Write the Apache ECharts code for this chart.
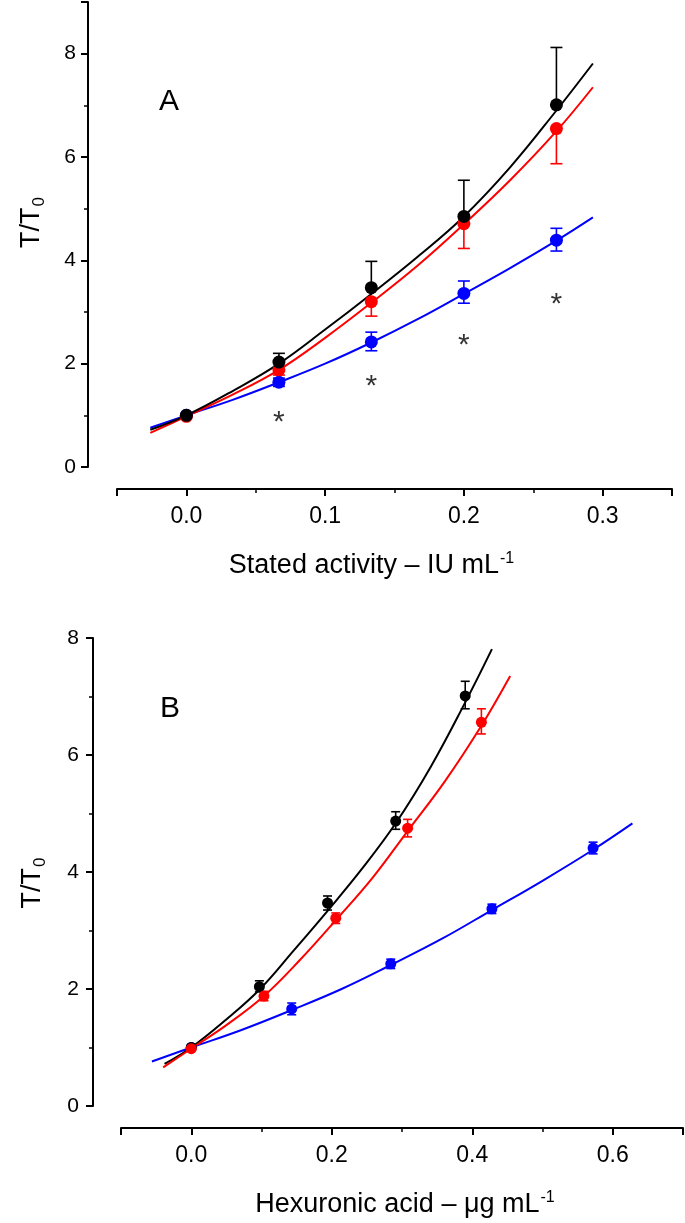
<!DOCTYPE html>
<html>
<head>
<meta charset="utf-8">
<script src="https://cdn.jsdelivr.net/npm/echarts@6/dist/echarts.min.js"></script>
<style>
html,body{margin:0;padding:0;background:#fff;}
#chart{width:685px;height:1223px;}
</style>
</head>
<body>
<div id="chart"></div>
<script>
// ---------- Panel A: stated activity (IU mL-1) ----------
const xA = [0, 0.0667, 0.1333, 0.2, 0.2667];
const blackA = [1.0, 2.03, 3.47, 4.85, 7.01];
const blackA_lo = [1.0, 2.03, 3.47, 4.85, 7.01];
const blackA_hi = [1.0, 2.2, 3.98, 5.55, 8.12];
const redA = [0.98, 1.88, 3.2, 4.71, 6.55];
const redA_lo = [0.98, 1.78, 2.92, 4.23, 5.87];
const redA_hi = [0.98, 1.88, 3.2, 4.71, 6.55];
const blueA = [1.0, 1.64, 2.42, 3.36, 4.39];
const blueA_lo = [1.0, 1.56, 2.25, 3.17, 4.18];
const blueA_hi = [1.0, 1.72, 2.61, 3.6, 4.62];
const starX_A = [0.0667, 0.1333, 0.2, 0.2667];
const starY_A = [1.02, 1.7, 2.51, 3.29];

const fitX_A = [-0.026, 0, 0.0333, 0.0667, 0.1, 0.1333, 0.1667, 0.2, 0.2333, 0.2667, 0.293];
const fitBlack = [0.72, 1.0, 1.47, 2.0, 2.66, 3.35, 4.07, 4.85, 5.8, 6.9, 7.81];
const fitRed = [0.66, 0.98, 1.40, 1.88, 2.5, 3.18, 3.9, 4.7, 5.55, 6.5, 7.35];
const fitBlue = [0.76, 1.0, 1.3, 1.64, 2.0, 2.41, 2.86, 3.35, 3.85, 4.38, 4.83];

// ---------- Panel B: hexuronic acid (ug mL-1) ----------
const xB_black = [0, 0.097, 0.194, 0.291, 0.39];
const blackB = [1.0, 2.04, 3.47, 4.87, 7.01];
const blackB_lo = [1.0, 1.95, 3.35, 4.73, 6.79];
const blackB_hi = [1.0, 2.14, 3.59, 5.03, 7.26];
const xB_red = [0, 0.1035, 0.2057, 0.308, 0.413];
const redB = [0.98, 1.88, 3.21, 4.75, 6.56];
const redB_lo = [0.98, 1.8, 3.12, 4.6, 6.36];
const redB_hi = [0.98, 1.96, 3.3, 4.9, 6.79];
const xB_blue = [0, 0.143, 0.284, 0.428, 0.572];
const blueB = [1.0, 1.66, 2.43, 3.37, 4.41];
const blueB_lo = [1.0, 1.56, 2.35, 3.29, 4.31];
const blueB_hi = [1.0, 1.76, 2.51, 3.45, 4.51];

const fitX_B_black = [-0.038, 0, 0.049, 0.098, 0.146, 0.195, 0.244, 0.292, 0.341, 0.39, 0.428];
const fitX_B_red = [-0.04, 0, 0.052, 0.1035, 0.155, 0.206, 0.258, 0.308, 0.361, 0.413, 0.454];
const fitX_B_blue = [-0.056, 0, 0.0715, 0.143, 0.214, 0.284, 0.357, 0.428, 0.5, 0.572, 0.628];

// ---------- helpers ----------
const FONT = "'Liberation Sans', Arial, sans-serif";
const BLACK = '#000000', RED = '#ff0000', BLUE = '#0000ff';

function zip(xs, ys) { return xs.map((x, i) => [x, ys[i]]); }
function zipErr(xs, ys, lo, hi) { return xs.map((x, i) => [x, ys[i], lo[i], hi[i]]); }

function curve(xs, ys, color, gi) {
  return { type: 'line', xAxisIndex: gi, yAxisIndex: gi, data: zip(xs, ys), smooth: 0.4,
    showSymbol: false, silent: true, z: 2,
    lineStyle: { color: color, width: 2 } };
}
function points(xs, ys, color, gi, size, z) {
  return { type: 'scatter', xAxisIndex: gi, yAxisIndex: gi, data: zip(xs, ys),
    symbol: 'circle', symbolSize: size, z: z, itemStyle: { color: color, opacity: 1 } };
}
function errBars(xs, ys, lo, hi, color, gi, capW, z) {
  return { type: 'custom', xAxisIndex: gi, yAxisIndex: gi, z: z, silent: true,
    data: zipErr(xs, ys, lo, hi),
    encode: { x: 0, y: [1, 2, 3] },
    renderItem: function (params, api) {
      const x = api.value(0), y = api.value(1), l = api.value(2), h = api.value(3);
      const pL = api.coord([x, l]), pH = api.coord([x, h]);
      const st = { stroke: color, lineWidth: 1.6 };
      const ch = [{ type: 'line', shape: { x1: pL[0], y1: pL[1], x2: pH[0], y2: pH[1] }, style: st }];
      if (l !== y) ch.push({ type: 'line', shape: { x1: pL[0] - capW / 2, y1: pL[1], x2: pL[0] + capW / 2, y2: pL[1] }, style: st });
      if (h !== y) ch.push({ type: 'line', shape: { x1: pH[0] - capW / 2, y1: pH[1], x2: pH[0] + capW / 2, y2: pH[1] }, style: st });
      return { type: 'group', children: ch };
    } };
}
function stars(xs, ys, gi) {
  return { type: 'scatter', xAxisIndex: gi, yAxisIndex: gi, data: zip(xs, ys), symbolSize: 1, z: 6,
    itemStyle: { color: 'rgba(0,0,0,0)' }, silent: true,
    label: { show: true, formatter: '*', position: 'inside', color: '#000', fontSize: 30,
      fontFamily: FONT, offset: [0, 8] } };
}

function xAxisDef(gi, min, max, split, labelShiftPad, title) {
  return { type: 'value', gridIndex: gi, min: min, max: max, splitNumber: split, offset: 22,
    axisLine: { show: true, onZero: false, lineStyle: { color: '#000', width: 2 } },
    axisTick: { show: true, inside: false, length: 7, lineStyle: { color: '#000', width: 2 } },
    minorTick: { show: true, splitNumber: 2, length: 4, lineStyle: { color: '#000', width: 1.5 } },
    splitLine: { show: false },
    axisLabel: { show: true, showMinLabel: false, showMaxLabel: false, margin: 16,
      fontSize: 23, color: '#000', fontFamily: FONT, formatter: v => v.toFixed(1) },
    name: title, nameLocation: 'middle', nameGap: 60,
    nameTextStyle: { color: '#000', fontFamily: FONT, padding: labelShiftPad,
      rich: {
        t: { fontSize: 27, lineHeight: 30, verticalAlign: 'bottom', fontFamily: FONT, color: '#000' },
        p: { fontSize: 16, lineHeight: 16, verticalAlign: 'top', fontFamily: FONT, color: '#000', padding: [2, 0, 0, 1] }
      } } };
}
function yAxisDef(gi, max, showMax, offset, margin, namePad, nameGap) {
  return { type: 'value', gridIndex: gi, min: 0, max: max, interval: 2, offset: offset,
    axisLine: { show: true, onZero: false, lineStyle: { color: '#000', width: 2 } },
    axisTick: { show: true, inside: false, length: 7, lineStyle: { color: '#000', width: 2 } },
    minorTick: { show: true, splitNumber: 2, length: 4, lineStyle: { color: '#000', width: 1.5 } },
    splitLine: { show: false },
    axisLabel: { show: true, showMaxLabel: showMax, margin: margin, fontSize: 21, color: '#000', fontFamily: FONT },
    name: '{t|T/T}{s|0}', nameLocation: 'middle', nameRotate: 90, nameGap: nameGap,
    nameTextStyle: { color: '#000', fontFamily: FONT, padding: namePad,
      rich: {
        t: { fontSize: 27, lineHeight: 30, verticalAlign: 'top', fontFamily: FONT, color: '#000' },
        s: { fontSize: 17, lineHeight: 17, verticalAlign: 'bottom', fontFamily: FONT, color: '#000', padding: [15, 0, 0, 1] }
      } } };
}

const chart = echarts.init(document.getElementById('chart'), null, { renderer: 'canvas' });
chart.setOption({
  backgroundColor: '#ffffff',
  animation: false,
  grid: [
    { left: 117, right: 13, top: 2, bottom: 756, containLabel: false },
    { left: 121, right: 2, top: 638, bottom: 117, containLabel: false }
  ],
  xAxis: [
    xAxisDef(0, -0.05, 0.35, 4, [0, 46, 0, 0], '{t|Stated activity – IU mL}{p|-1}'),
    xAxisDef(1, -0.1, 0.7, 4, [0, 0, 0, 6], '{t|Hexuronic acid – μg mL}{p|-1}')
  ],
  yAxis: [
    yAxisDef(0, 9, false, 29, 12, [0, 0, 0, 24], 40),
    yAxisDef(1, 8, true, 28, 14, [0, 22, 0, 0], 44)
  ],
  graphic: [
    { type: 'text', left: 159, top: 87, style: { text: 'A', fontSize: 30, fontFamily: FONT, fill: '#000' } },
    { type: 'text', left: 160, top: 694, style: { text: 'B', fontSize: 30, fontFamily: FONT, fill: '#000' } }
  ],
  series: [
    curve(fitX_A, fitBlue, BLUE, 0),
    curve(fitX_A, fitRed, RED, 0),
    curve(fitX_A, fitBlack, BLACK, 0),
    errBars(xA, blueA, blueA_lo, blueA_hi, BLUE, 0, 12, 3),
    errBars(xA, redA, redA_lo, redA_hi, RED, 0, 12, 3),
    errBars(xA, blackA, blackA_lo, blackA_hi, BLACK, 0, 12, 3),
    points(xA, blueA, BLUE, 0, 13, 4),
    points(xA, redA, RED, 0, 13, 4),
    points(xA, blackA, BLACK, 0, 13, 5),
    stars(starX_A, starY_A, 0),

    curve(fitX_B_blue, fitBlue, BLUE, 1),
    curve(fitX_B_black, fitBlack, BLACK, 1),
    curve(fitX_B_red, fitRed, RED, 1),
    errBars(xB_blue, blueB, blueB_lo, blueB_hi, BLUE, 1, 9, 3),
    errBars(xB_black, blackB, blackB_lo, blackB_hi, BLACK, 1, 9, 3),
    errBars(xB_red, redB, redB_lo, redB_hi, RED, 1, 9, 3),
    points(xB_blue, blueB, BLUE, 1, 11, 4),
    points(xB_black, blackB, BLACK, 1, 11, 4),
    points(xB_red, redB, RED, 1, 11, 5)
  ]
});
</script>
</body>
</html>
